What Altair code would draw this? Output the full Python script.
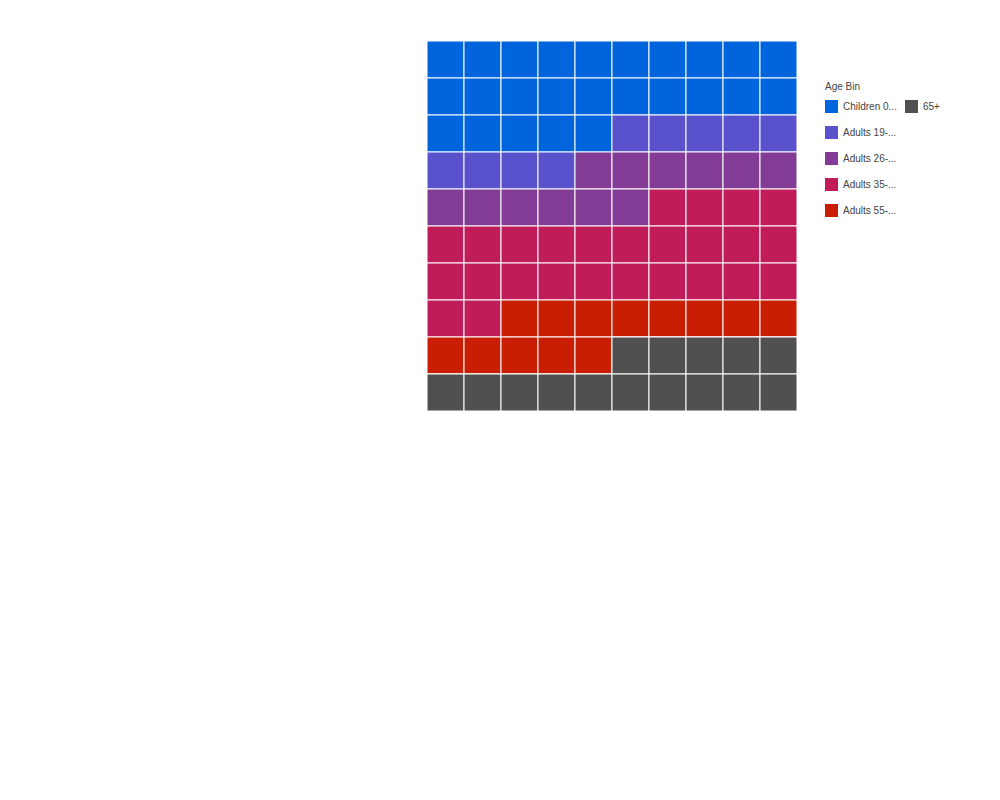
import altair as alt
import pandas as pd

categories = ["Children 0-18", "Adults 19-25", "Adults 26-34", "Adults 35-54", "Adults 55-64", "65+"]
counts = [25, 9, 12, 26, 13, 15]
colors = ["#0064dc", "#5a52cc", "#833c95", "#c01c5a", "#ca1e04", "#505050"]

rows = []
i = 0
for cat, n in zip(categories, counts):
    for _ in range(n):
        rows.append({"Age Bin": cat, "col": i % 10, "row": i // 10})
        i += 1
df = pd.DataFrame(rows)

common = dict(
    symbolType="square", symbolSize=169, symbolStrokeWidth=0,
    labelLimit=56, labelOffset=5, labelFontSize=10, titleFontSize=10, titleFontWeight="normal",
    rowPadding=13, titlePadding=8,
    labelFont="Liberation Sans", titleFont="Liberation Sans",
    labelColor="#444", titleColor="#444",
)

xenc = alt.X("col:O", axis=None, scale=alt.Scale(paddingInner=0, paddingOuter=0))
yenc = alt.Y("row:O", axis=None, scale=alt.Scale(paddingInner=0, paddingOuter=0))

base = alt.Chart(df).mark_rect(stroke="white", strokeWidth=1).encode(
    x=xenc, y=yenc,
    color=alt.Color(
        "Age Bin:N",
        scale=alt.Scale(domain=categories, range=colors),
        legend=alt.Legend(orient="none", legendX=398, legendY=41,
                          values=categories[:5], **common),
    ),
)

last = alt.Chart(df).transform_filter(
    alt.datum["Age Bin"] == categories[-1]
).mark_rect(stroke="white", strokeWidth=1).encode(
    x=xenc, y=yenc,
    color=alt.Color(
        "Age Bin:N",
        scale=alt.Scale(domain=categories[-1:], range=colors[-1:]),
        legend=alt.Legend(orient="none", legendX=478, legendY=59, title=None, **common),
    ),
)

chart = alt.layer(base, last).resolve_scale(color="independent").properties(
    width=370, height=370, padding={"left": 426, "top": 40, "right": 5, "bottom": 5}
).configure(style={"guide-label": {"ellipsis": "..."}}).configure_view(stroke=None)

chart.save("out.html", embed_options={"renderer": "svg", "actions": False})
